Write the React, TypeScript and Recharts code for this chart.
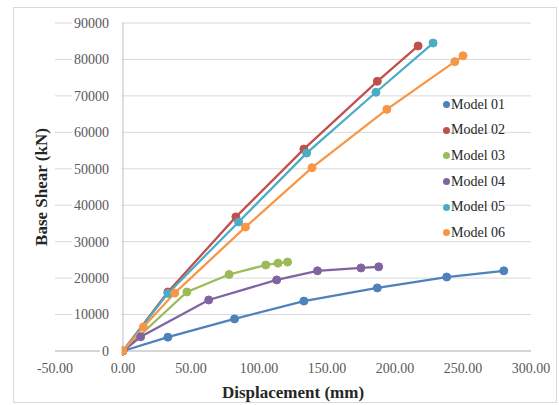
import {
  LineChart,
  Line,
  XAxis,
  YAxis,
  CartesianGrid,
  ReferenceLine,
  Legend,
  Label,
} from "recharts";

const FONT = '"Liberation Serif", "Times New Roman", serif';

const MODEL_NAMES = ["Model 01", "Model 02", "Model 03", "Model 04", "Model 05", "Model 06"];
const MODEL_COLORS = ["#4f81bd", "#c0504d", "#9bbb59", "#8064a2", "#4bacc6", "#f79646"];

// displacement (mm) / base shear (kN) per model
const M01_DISP = [0, 33, 82, 133, 187, 238, 280];
const M01_SHEAR = [0, 3800, 8800, 13700, 17300, 20300, 22000];

const M02_DISP = [0, 33, 83, 133, 187, 217];
const M02_SHEAR = [0, 16200, 36800, 55400, 74000, 83700];

const M03_DISP = [0, 47, 78, 105, 114, 121];
const M03_SHEAR = [0, 16200, 21000, 23600, 24100, 24400];

const M04_DISP = [0, 13, 63, 113, 143, 175, 188];
const M04_SHEAR = [0, 3900, 14000, 19500, 22000, 22800, 23100];

const M05_DISP = [0, 33, 85, 135, 186, 228];
const M05_SHEAR = [0, 15800, 35400, 54300, 71000, 84500];

const M06_DISP = [0, 15, 38, 90, 139, 194, 244, 250];
const M06_SHEAR = [0, 6600, 15900, 34000, 50300, 66300, 79400, 81000];

const X_TICKS = [-50, 0, 50, 100, 150, 200, 250, 300];
const Y_TICKS = [0, 10000, 20000, 30000, 40000, 50000, 60000, 70000, 80000, 90000];

const DISP = [M01_DISP, M02_DISP, M03_DISP, M04_DISP, M05_DISP, M06_DISP];
const SHEAR = [M01_SHEAR, M02_SHEAR, M03_SHEAR, M04_SHEAR, M05_SHEAR, M06_SHEAR];

const series = MODEL_NAMES.map((name, i) => ({
  name,
  color: MODEL_COLORS[i],
  data: DISP[i].map((x, j) => ({ x, y: SHEAR[i][j] })),
}));

/* layout */
const W = 559;
const H = 405;
const Y_AXIS_W = 55;
const X_AXIS_H = 54;
const MARGIN = { top: 23, right: 28, bottom: 0, left: 0 };
const PLOT_W = W - MARGIN.left - MARGIN.right - Y_AXIS_W;
const X_MIN = X_TICKS[0];
const X_MAX = X_TICKS[X_TICKS.length - 1];
// excel puts the vertical axis at x = 0, labels sit left of it inside the plot
const ZERO_X = MARGIN.left + Y_AXIS_W + ((0 - X_MIN) / (X_MAX - X_MIN)) * PLOT_W;

const YTick = (props: any) => {
  const { y, payload } = props;
  const label = String(payload.value);
  const w = label.length * 7;
  const right = ZERO_X - 14;
  return (
    <g>
      <rect x={right - w - 2} y={y - 8} width={ZERO_X - 1.5 - (right - w - 2)} height={16} fill="#fff" />
      <text
        x={right}
        y={y}
        dy="0.35em"
        textAnchor="end"
        fill="#595959"
        fontSize={14}
        fontFamily={FONT}
      >
        {label}
      </text>
    </g>
  );
};

const renderLegend = () => (
  <div style={{ fontFamily: FONT, fontSize: 14, color: "#262626" }}>
    {series.map((s) => (
      <div
        key={s.name}
        style={{ height: 25.6, display: "flex", alignItems: "center", whiteSpace: "nowrap" }}
      >
        <span
          style={{
            display: "inline-block",
            width: 7,
            height: 7,
            borderRadius: "50%",
            background: s.color,
            marginRight: 1,
          }}
        />
        {s.name}
      </div>
    ))}
  </div>
);

export default function App() {
  return (
    <div style={{ position: "absolute", left: 0, top: 0, width: W, height: H, background: "#fff" }}>
      <div
        style={{
          position: "absolute",
          left: 13,
          top: 7,
          width: 542,
          height: 394,
          border: "1px solid #d9d9d9",
        }}
      />
      <LineChart width={W} height={H} margin={MARGIN} style={{ position: "absolute", left: 0, top: 0 }}>
        <CartesianGrid vertical={false} stroke="#d9d9d9" strokeWidth={1} />
        <XAxis
          type="number"
          dataKey="x"
          domain={[X_MIN, X_MAX]}
          ticks={X_TICKS}
          allowDataOverflow
          height={X_AXIS_H}
          axisLine={false}
          tickLine={false}
          tickMargin={6}
          tickFormatter={(v) => Number(v).toFixed(2)}
          tick={{ fill: "#595959", fontSize: 14, fontFamily: FONT }}
        >
          <Label
            value="Displacement (mm)"
            position="insideBottom"
            offset={7}
            style={{ fill: "#262626", fontSize: 17, fontWeight: 700, fontFamily: FONT }}
          />
        </XAxis>
        <YAxis
          type="number"
          dataKey="y"
          domain={[0, 90000]}
          ticks={Y_TICKS}
          width={Y_AXIS_W}
          axisLine={false}
          tickLine={false}
          tick={<YTick />}
        >
          <Label
            value="Base Shear (kN)"
            angle={-90}
            position="insideLeft"
            offset={41}
            style={{
              textAnchor: "middle",
              fill: "#262626",
              fontSize: 17,
              fontWeight: 700,
              fontFamily: FONT,
            }}
          />
        </YAxis>
        <ReferenceLine x={0} stroke="#bfbfbf" strokeWidth={1} />
        <ReferenceLine y={0} stroke="#bfbfbf" strokeWidth={1} />
        {series.map((s) => (
          <Line
            key={s.name}
            data={s.data}
            dataKey="y"
            name={s.name}
            type="linear"
            stroke={s.color}
            strokeWidth={2.25}
            dot={{ r: 4, fill: s.color, stroke: s.color, strokeWidth: 1 }}
            activeDot={false}
            isAnimationActive={false}
          />
        ))}
        <Legend
          layout="vertical"
          align="center"
          verticalAlign="middle"
          content={renderLegend}
          wrapperStyle={{ left: 443, top: 92, width: 90 }}
        />
      </LineChart>
    </div>
  );
}
